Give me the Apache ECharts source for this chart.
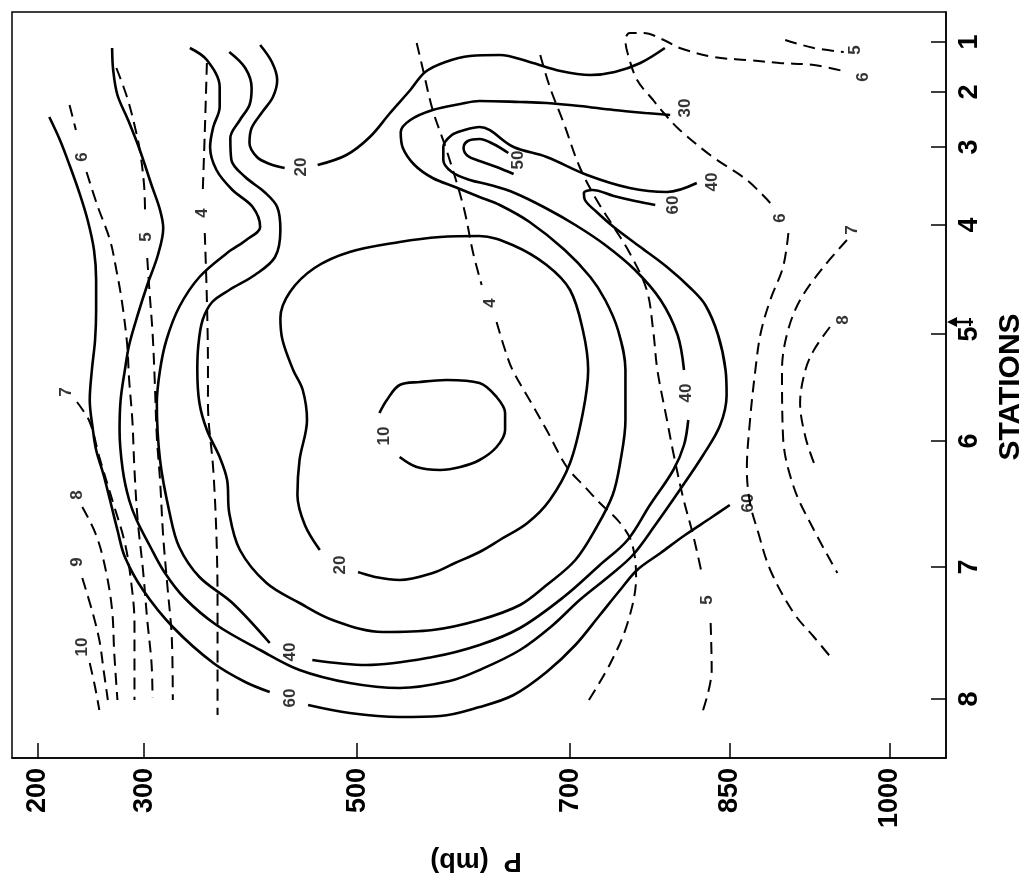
<!DOCTYPE html>
<html>
<head>
<meta charset="utf-8">
<script src="https://cdn.jsdelivr.net/npm/echarts@6.0.0/dist/echarts.min.js"></script>
<style>
  html, body { margin: 0; padding: 0; background: #fff; }
  #chart { width: 1025px; height: 889px; }
</style>
</head>
<body>
<div id="chart"></div>
<script>
// stations along the section (distance units, station 1 at the top)
const stationNames = ['1', '2', '3', '4', '5', '6', '7', '8'];
const stationDist = [0, 50, 105, 183, 292, 399, 525, 657];
const pressureTicks = [200, 300, 500, 700, 850, 1000];
const arrowDist = 280;

// solid isotachs, points are [pressure mb, distance]
const iso10 = [[521,371],[528,358],[540,343],[559,340],[584,338],[615,341],[631,355],[639,371],[639,388],[631,405],[615,418],[597,425],[578,428],[556,425],[540,415]];
const iso20Loop = [[465,508],[451,483],[444,453],[446,418],[453,378],[449,348],[440,328],[430,298],[428,276],[437,250],[460,226],[493,210],[540,200],[578,195],[615,194],[646,203],[678,223],[700,248],[712,288],[717,328],[712,371],[700,421],[681,458],[660,481],[634,498],[615,510],[592,521],[571,531],[540,538],[517,535],[501,530]];
const iso20TopA = [[409,3],[420,20],[425,38],[421,55],[411,70],[401,86],[399,101],[406,115],[418,122],[432,126]];
const iso20TopB = [[463,123],[490,113],[512,95],[531,71],[550,48],[564,30],[583,20],[606,14],[634,13],[662,20],[691,29],[719,33],[742,30],[766,21],[789,6]];
const iso30 = [[380,10],[395,26],[401,46],[399,63],[390,78],[381,96],[382,118],[395,135],[413,150],[425,165],[428,188],[423,215],[404,233],[380,248],[364,260],[355,278],[351,303],[350,328],[352,361],[359,388],[371,415],[378,438],[380,471],[390,508],[415,541],[446,561],[477,578],[524,590],[571,588],[615,578],[653,563],[678,543],[705,518],[725,485],[740,453],[747,421],[752,378],[752,328],[745,288],[733,258],[719,235],[695,208],[662,180],[634,163],[615,155],[592,145],[571,136],[554,123],[543,106],[541,90],[550,78],[571,68],[597,62],[615,59],[653,60],[678,61],[709,64],[741,68],[771,71],[794,73]];
const iso40a = [[343,6],[359,18],[371,45],[371,65],[365,85],[362,105],[368,128],[383,148],[402,165],[409,185],[396,198],[378,211],[352,235],[333,265],[321,298],[315,328],[312,361],[315,418],[324,471],[333,505],[352,535],[383,561],[418,601]];
const iso40b = [[458,618],[509,623],[571,615],[615,603],[653,586],[694,555],[728,523],[754,498],[775,463],[797,428],[807,403],[811,378]];
const iso40c = [[807,328],[801,293],[785,258],[761,228],[733,203],[705,183],[677,166],[648,151],[625,143],[606,138],[589,130],[581,118],[581,105],[589,93],[601,88],[615,85],[647,105],[678,115],[716,133],[756,146],[791,150],[819,141]];
const iso50 = [[270,6],[271,28],[275,53],[285,78],[296,108],[307,143],[315,168],[318,186],[313,213],[303,243],[294,273],[286,303],[282,328],[278,358],[277,388],[280,428],[286,458],[293,478],[305,503],[319,530],[338,556],[368,583],[409,608],[446,628],[493,641],[540,646],[587,639],[615,628],[653,608],[684,583],[709,558],[738,533],[759,513],[780,483],[803,448],[825,413],[841,383],[847,353],[846,328],[839,293],[827,263],[813,246],[791,225],[766,205],[741,185],[725,170],[714,158],[713,151],[721,148],[741,154],[761,159],[780,163]];
const iso50Finger = [[642,111],[628,102],[615,97],[604,99],[600,106],[604,114],[615,119],[631,125],[647,132]];
const iso60a = [[211,75],[221,98],[230,123],[239,150],[247,178],[253,208],[255,238],[255,268],[254,298],[251,328],[249,358],[252,388],[255,408],[262,433],[268,458],[275,488],[282,515],[299,548],[327,585],[365,621],[395,640],[418,650]];
const iso60b = [[454,663],[493,671],[540,675],[578,674],[615,665],[647,653],[678,630],[705,603],[728,573],[747,548],[763,528],[785,511],[808,493],[832,476],[850,463]];

// dashed lines, points are [pressure mb, distance]
const q10 = [[249,621],[254,645],[258,668]];
const q9 = [[242,536],[251,568],[258,598],[262,628],[266,658]];
const q8 = [[242,465],[255,493],[264,528],[270,568],[272,611],[275,658]];
const q7 = [[237,360],[249,380],[258,415],[271,461],[282,501],[288,541],[291,581],[291,618],[291,658]];
const q6Wa = [[230,63],[236,88]];
const q6Wb = [[246,130],[256,163],[268,198],[274,228],[279,258],[284,301],[286,338],[289,378],[291,428],[294,478],[299,528],[303,578],[307,621],[308,656]];
const q5Wa = [[274,26],[284,55],[291,83],[296,108],[300,143],[301,173]];
const q5Wb = [[303,216],[305,248],[308,291],[310,338],[312,395],[315,438],[318,495],[322,545],[326,595],[327,658]];
const q4Wa = [[359,21],[357,91],[355,153]];
const q4Wb = [[357,191],[359,258],[360,325],[360,361],[365,428],[368,495],[369,561],[369,628],[369,673]];
const q4Ma = [[556,1],[562,28],[571,68],[584,108],[600,165],[609,211],[617,243]];
const q4Mb = [[631,280],[639,308],[646,328],[662,358],[678,388],[697,425],[714,445],[728,461],[747,481],[758,501],[762,535],[754,581],[738,621],[716,661]];
const q5Ea = [[672,13],[681,45],[694,81],[709,125],[725,158],[741,185],[756,211],[772,248],[778,288],[782,328],[791,378],[797,411],[806,455],[816,495],[824,533]];
const q5Eb = [[832,581],[833,628],[824,671]];
const q6Ea = [[888,161],[866,138],[834,115],[803,88],[788,71],[778,58],[763,38],[754,11],[752,-2],[756,-9],[769,-9],[788,-2],[803,6],[835,15],[866,18],[897,21],[929,23],[960,30]];
const q6Eb = [[905,191],[900,225],[888,258],[879,291],[874,328],[869,378],[866,428],[869,461],[876,488],[888,528],[910,571],[929,595],[947,618]];
const q5NE = [[902,-2],[929,6],[957,10]];
const q7E = [[960,198],[938,225],[916,258],[904,291],[899,328],[900,395],[910,445],[929,488],[951,531]];
const q8E = [[944,285],[929,308],[921,328],[916,361],[921,395],[929,421]];

// contour labels
const solidLabelText = ['10', '20', '20', '30', '40', '40', '40', '50', '60', '60', '60'];
const solidLabelPos = [[526,394],[484,523],[448,125],[808,66],[437,610],[809,351],[834,140],[651,118],[797,163],[437,656],[867,461]];
const dashLabelText = ['10', '9', '8', '7', '6', '5', '4', '4', '5', '6', '6', '5', '7', '8'];
const dashLabelPos = [[242,605],[237,520],[237,453],[227,350],[242,115],[302,195],[355,171],[625,261],[829,558],[897,176],[975,35],[968,8],[965,188],[957,278]];

const solidLines = [iso10, iso20Loop, iso20TopA, iso20TopB, iso30, iso40a, iso40b, iso40c, iso50, iso50Finger, iso60a, iso60b];
const dashedLines = [q10, q9, q8, q7, q6Wa, q6Wb, q5Wa, q5Wb, q4Wa, q4Wb, q4Ma, q4Mb, q5Ea, q5Eb, q6Ea, q6Eb, q5NE, q7E, q8E];

const FONT = 'Liberation Sans, Arial, sans-serif';
const xMin = 176, xMax = 1053, yMin = -30, yMax = 716;

const series = [];
solidLines.forEach(function (pts) {
  series.push({
    type: 'line', data: pts, smooth: 0.35, symbol: 'none', silent: true,
    lineStyle: { color: '#000', width: 2.6 }
  });
});
dashedLines.forEach(function (pts) {
  series.push({
    type: 'line', data: pts, smooth: 0.35, symbol: 'none', silent: true,
    lineStyle: { color: '#000', width: 2, type: [12, 7] }
  });
});
const labelData = solidLabelText.map(function (t, i) { return { name: t, value: solidLabelPos[i] }; })
  .concat(dashLabelText.map(function (t, i) { return { name: t, value: dashLabelPos[i] }; }));
series.push({
  type: 'scatter', data: labelData, symbolSize: 0.1, silent: true,
  itemStyle: { color: 'transparent' },
  label: {
    show: true, position: 'inside', rotate: 90, formatter: function (p) { return p.name; },
    color: '#000', textBorderWidth: 0, fontSize: 17, fontWeight: 'bold', fontFamily: FONT
  }
});

const chart = echarts.init(document.getElementById('chart'));
chart.setOption({
  animation: false,
  backgroundColor: '#fff',
  grid: {
    left: 12, right: 79, top: 12, bottom: 131,
    show: true, borderColor: '#000', borderWidth: 1.5,
    outerBoundsMode: 'none'
  },
  xAxis: {
    type: 'value', min: xMin, max: xMax, position: 'bottom',
    axisLine: { show: true, onZero: false, lineStyle: { color: '#000', width: 1.5 } },
    axisTick: { show: true, inside: true, length: 15, customValues: pressureTicks, lineStyle: { color: '#000', width: 1.5 } },
    axisLabel: {
      customValues: pressureTicks, rotate: 90, margin: 10,
      formatter: function (v) { return String(v); },
      color: '#000', fontSize: 27, fontWeight: 'bold', fontFamily: FONT
    },
    splitLine: { show: false }
  },
  yAxis: {
    type: 'value', min: yMin, max: yMax, inverse: true, position: 'right',
    axisLine: { show: true, onZero: false, lineStyle: { color: '#000', width: 1.5 } },
    axisTick: { show: true, inside: true, length: 15, customValues: stationDist, lineStyle: { color: '#000', width: 1.5 } },
    axisLabel: {
      customValues: stationDist, rotate: 90, margin: 10,
      formatter: function (v) { return stationNames[stationDist.indexOf(v)]; },
      color: '#000', fontSize: 27, fontWeight: 'bold', fontFamily: FONT
    },
    splitLine: { show: false }
  },
  series: series
});

// axis titles and the arrow at station 5
const edgeX = chart.convertToPixel({ xAxisIndex: 0 }, xMax);
const arrowY = chart.convertToPixel({ yAxisIndex: 0 }, arrowDist);
chart.setOption({
  graphic: [
    {
      type: 'text', x: 1011, y: 387, rotation: Math.PI / 2,
      style: { text: 'STATIONS', fill: '#000', font: 'bold 30px ' + FONT, align: 'center', verticalAlign: 'middle' }
    },
    {
      type: 'text', x: 476, y: 860, rotation: Math.PI,
      style: { text: 'P  (mb)', fill: '#000', font: 'bold 27px ' + FONT, align: 'center', verticalAlign: 'middle' }
    },
    {
      type: 'polygon',
      shape: { points: [[edgeX + 1, arrowY], [edgeX + 11, arrowY - 5], [edgeX + 11, arrowY + 5]] },
      style: { fill: '#000' }
    },
    {
      type: 'line',
      shape: { x1: edgeX + 8, y1: arrowY, x2: edgeX + 27, y2: arrowY },
      style: { stroke: '#000', lineWidth: 2.5 }
    },
    {
      type: 'line',
      shape: { x1: edgeX + 24, y1: arrowY - 4, x2: edgeX + 24, y2: arrowY + 4 },
      style: { stroke: '#000', lineWidth: 2 }
    }
  ]
});
</script>
</body>
</html>
